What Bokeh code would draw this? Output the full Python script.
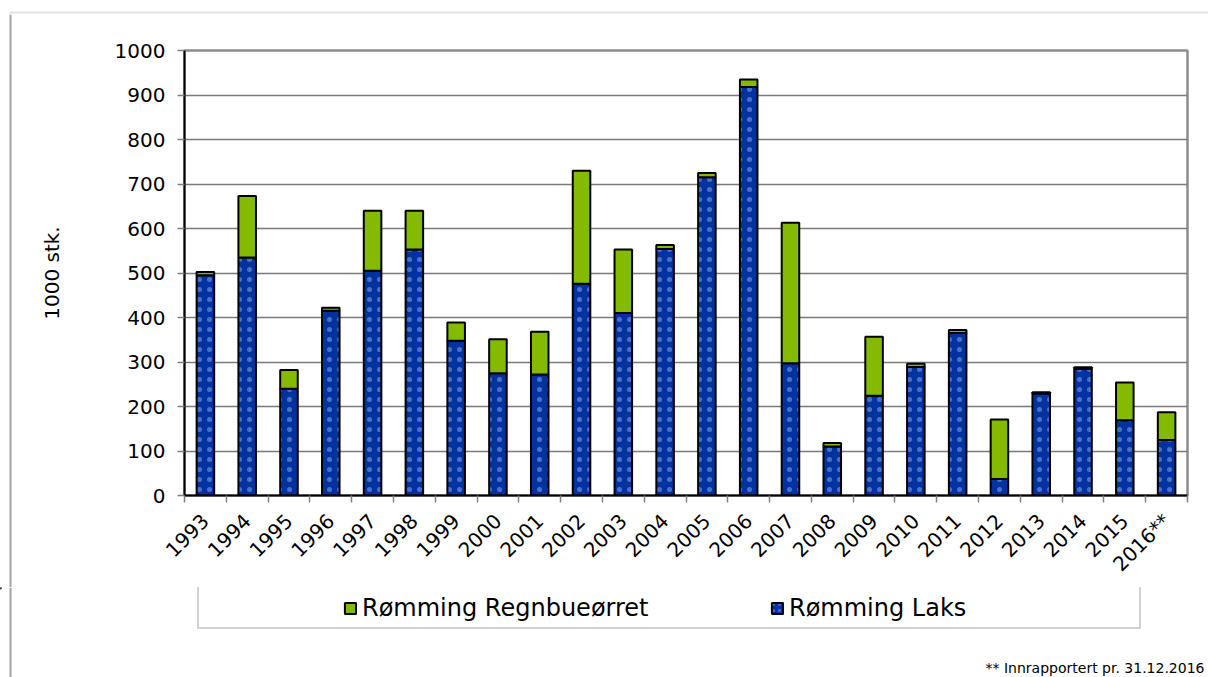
from math import pi
from bokeh.plotting import figure
from bokeh.layouts import column, row
from bokeh.models import (Range1d, FixedTicker, Legend, LegendItem, Label,
                          ColumnDataSource, BoxAnnotation, Span)
from bokeh.transform import stack
from bokeh.embed import file_html
from bokeh.resources import INLINE

# ---- data ----
years = ["1993", "1994", "1995", "1996", "1997", "1998", "1999", "2000", "2001", "2002",
         "2003", "2004", "2005", "2006", "2007", "2008", "2009", "2010", "2011", "2012",
         "2013", "2014", "2015", "2016**"]
laks = [495, 535, 240, 415, 505, 553, 348, 275, 272, 476,
        410, 554, 715, 918, 297, 110, 224, 289, 365, 37,
        229, 285, 169, 125]
regnbue = [7, 138, 42, 7, 135, 87, 41, 76, 96, 254,
           143, 9, 10, 17, 316, 8, 133, 7, 7, 134,
           3, 3, 85, 62]
y_ticks = [0, 100, 200, 300, 400, 500, 600, 700, 800, 900, 1000]
series_names = ["Rømming Regnbueørret", "Rømming Laks"]
y_title = "1000 stk."
footnote = "** Innrapportert pr. 31.12.2016"

BLUE = "#00339f"
GREEN = "#84bb00"
DOT = "#7f97e0"
FONT = "DejaVu Sans"
BORDER = "#a3a3a3"

W, H = 1208, 677
TOP_H = 14
LEFT_W = 14
MID_H = 573
BOTTOM_H = H - TOP_H - MID_H  # 90


def blank(width, height):
    f = figure(width=width, height=height, output_backend="svg", toolbar_location=None,
               x_range=Range1d(0, width), y_range=Range1d(height, 0),
               x_axis_location=None, y_axis_location=None, min_border=0,
               frame_align=False)
    f.grid.visible = False
    f.outline_line_color = None
    f.background_fill_color = "white"
    f.border_fill_color = "white"
    return f


def left_edge(f):
    f.add_layout(Span(location=10, dimension="height", line_color=BORDER, line_width=2))


# ---- top strip: top edge of the outer chart border ----
p0 = blank(W, TOP_H)
p0.add_layout(BoxAnnotation(left=10, right=W + 50, top=12, bottom=TOP_H + 50, fill_alpha=0,
                            line_color=BORDER, line_width=2))

# ---- left strip ----
pL = blank(LEFT_W, MID_H)
left_edge(pL)

# ---- main chart ----
n = len(years)
centers = [i + 0.5 for i in range(n)]
src = ColumnDataSource(dict(x=centers, laks=laks, regnbue=regnbue))

p = figure(width=W - LEFT_W, height=MID_H, output_backend="svg", toolbar_location=None,
           x_range=Range1d(0, n), y_range=Range1d(0, 1000),
           min_border_left=170, min_border_right=21, min_border_top=36,
           min_border_bottom=MID_H - 36 - 445, frame_align=False)
p.background_fill_color = "white"
p.border_fill_color = "white"
p.outline_line_color = "#8c8c8c"
p.outline_line_width = 2.5

hatch = dict(hatch_pattern="dot", hatch_color=DOT, hatch_alpha=0.6,
             hatch_scale=10, hatch_weight=0.5)
r_laks = p.vbar(x="x", bottom=0, top="laks", width=0.42, source=src,
                fill_color=BLUE, line_color="black", line_width=2, **hatch)
r_reg = p.vbar(x="x", bottom=stack("laks"), top=stack("laks", "regnbue"), width=0.42,
               source=src, fill_color=GREEN, line_color="black", line_width=2)

ya = p.yaxis[0]
ya.ticker = FixedTicker(ticks=y_ticks)
ya.major_label_text_font = FONT
ya.major_label_text_font_size = "20px"
ya.major_label_text_color = "black"
ya.major_tick_out = 7
ya.major_tick_in = 0
ya.major_tick_line_color = "#7f7f7f"
ya.major_tick_line_width = 1.5
ya.major_label_standoff = 12
ya.axis_line_color = "black"
ya.axis_line_width = 2
ya.axis_label = y_title
ya.axis_label_text_font = FONT
ya.axis_label_text_font_size = "20px"
ya.axis_label_text_font_style = "normal"
ya.axis_label_text_color = "black"
ya.axis_label_standoff = 48

xa = p.xaxis[0]
xa.ticker = FixedTicker(ticks=centers, minor_ticks=list(range(n + 1)))
xa.major_label_overrides = {c: y for c, y in zip(centers, years)}
xa.major_label_orientation = pi / 4
xa.major_label_text_font = FONT
xa.major_label_text_font_size = "20px"
xa.major_label_text_color = "black"
xa.major_label_standoff = 15
xa.major_tick_out = 0
xa.major_tick_in = 0
xa.minor_tick_out = 7
xa.minor_tick_in = 0
xa.minor_tick_line_color = "#7f7f7f"
xa.minor_tick_line_width = 1.5
xa.axis_line_color = "black"
xa.axis_line_width = 2

p.xgrid.visible = False
p.ygrid.grid_line_color = "#7a7a7a"
p.ygrid.grid_line_width = 1.5

# ---- bottom strip: legend and footnote ----
p2 = blank(W, BOTTOM_H)
left_edge(p2)
lg_laks = p2.vbar(x=[-1000], top=[1], width=1, fill_color=BLUE, line_color="black",
                  line_width=2, hatch_pattern="dot", hatch_color=DOT, hatch_alpha=0.6,
                  hatch_scale=6, hatch_weight=0.5)
lg_reg = p2.vbar(x=[-1000], top=[1], width=1, fill_color=GREEN, line_color="black",
                 line_width=2)
dummy = p2.scatter(x=[-1000], y=[-1000], size=0, fill_alpha=0, line_alpha=0)

box = Legend(items=[LegendItem(label=" ", renderers=[dummy])], location=(197, BOTTOM_H - 42),
             padding=0, margin=0, spacing=0, glyph_width=1, glyph_height=41,
             label_width=939, label_height=41, label_standoff=0,
             border_line_color=BORDER, border_line_width=2,
             background_fill_color="white", background_fill_alpha=1)
common = dict(padding=0, margin=0, border_line_alpha=0, background_fill_alpha=0,
              glyph_width=14, glyph_height=14, label_standoff=5, label_height=30,
              label_text_font=FONT, label_text_font_size="24px", label_text_color="black")
leg1 = Legend(items=[LegendItem(label=series_names[0], renderers=[lg_reg])],
              location=(343, 54), **common)
leg2 = Legend(items=[LegendItem(label=series_names[1], renderers=[lg_laks])],
              location=(770, 54), **common)
for lg in (box, leg1, leg2):
    p2.add_layout(lg, "center")

p2.add_layout(Label(x=1204, y=80, text=footnote, text_font=FONT, text_font_size="14px",
                    text_color="black", text_align="right", text_baseline="middle"))

layout = column(p0, row(pL, p), p2)
open("out.html", "w").write(file_html(layout, INLINE))
